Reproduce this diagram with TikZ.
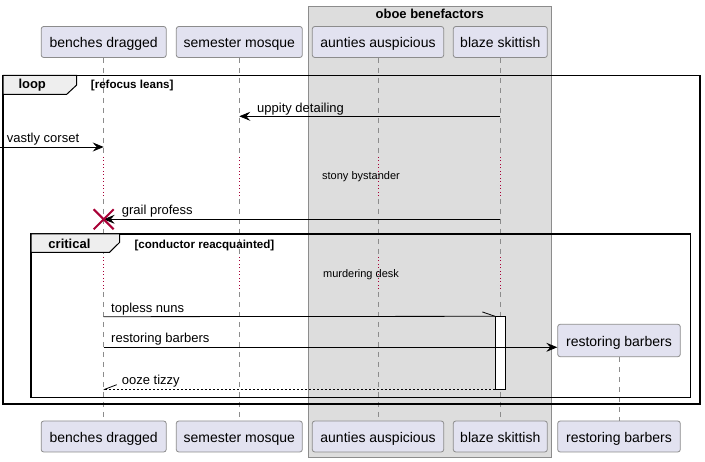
\documentclass[tikz,border=0pt]{standalone}
\usepackage{fontspec}
\setmainfont{Liberation Sans}
\usetikzlibrary{arrows.meta}
\definecolor{partfill}{HTML}{E2E2F0}
\definecolor{partdraw}{HTML}{8C8C8C}
\definecolor{grpfill}{HTML}{DDDDDD}
\definecolor{grpdraw}{HTML}{8C8C8C}
\definecolor{tabfill}{HTML}{EEEEEE}
\definecolor{lifecol}{HTML}{8C8C8C}
\definecolor{crimson}{HTML}{A80036}
\tikzset{
  part/.style={draw=partdraw, fill=partfill, rounded corners=2.5pt, line width=0.8pt,
    inner sep=0pt, minimum height=31pt, font=\fontsize{14}{16}\selectfont,
    text height=11.5pt, text depth=0pt},
  life/.style={draw=lifecol, line width=0.7pt, dash pattern=on 5pt off 5pt},
  delayline/.style={draw=crimson, line width=1pt, dash pattern=on 1pt off 2.5pt},
  msg/.style={draw=black, line width=0.8pt},
  tip/.style={-{Stealth[length=11pt,width=9pt,inset=4pt]}},
  msglabel/.style={font=\fontsize{13}{15}\selectfont, inner sep=0pt, anchor=base west},
  delaytext/.style={font=\fontsize{11}{13}\selectfont, inner sep=0pt, anchor=base},
  frameline/.style={draw=black, line width=1.5pt},
  tabshape/.style={draw=black, fill=tabfill, line width=1pt},
  tablabel/.style={font=\bfseries\fontsize{13}{15}\selectfont, inner sep=0pt, anchor=base west},
  condlabel/.style={font=\bfseries\fontsize{11.6}{13}\selectfont, inner sep=0pt, anchor=base west},
  activation/.style={draw=black, fill=white, line width=0.8pt, minimum width=10pt, minimum height=72.6pt, inner sep=0pt},
  destroy/.style={draw=crimson, line width=2pt}
}
\begin{document}
\begin{tikzpicture}[x=1pt,y=-1pt]
\useasboundingbox (0,0) rectangle (705,462);
\fill[white] (0,0) rectangle (705,462);

% group box
\draw[fill=grpfill, draw=grpdraw, line width=0.8pt] (308.3,6.3) rectangle (551.3,457.7);
\node[font=\bfseries\fontsize{13}{15}\selectfont, inner sep=0pt, anchor=base] (grptitle) at (429.8,18.8) {oboe benefactors};

% participants top
\node[part, minimum width=125pt] (bdT) at (103.7,42) {benches dragged};
\node[part, minimum width=126pt] (smT) at (239.3,42) {semester mosque};
\node[part, minimum width=131.4pt] (aaT) at (378,42) {aunties auspicious};
\node[part, minimum width=94pt] (bsT) at (500.3,42) {blaze skittish};
% participants bottom
\node[part, minimum width=125pt] (bdB) at (103.7,436.5) {benches dragged};
\node[part, minimum width=126pt] (smB) at (239.3,436.5) {semester mosque};
\node[part, minimum width=131.4pt] (aaB) at (378,436.5) {aunties auspicious};
\node[part, minimum width=94pt] (bsB) at (500.3,436.5) {blaze skittish};
\node[part, minimum width=122.6pt] (rbB) at (619,436.5) {restoring barbers};

% lifelines
\foreach \p in {bd,sm,aa,bs} {
  \draw[life] (\p T.south) -- (\p T.south |- 0,157);
  \draw[delayline] (\p T.south |- 0,157) -- (\p T.south |- 0,199);
  \draw[life] (\p T.south |- 0,199) -- (\p T.south |- 0,257);
  \draw[delayline] (\p T.south |- 0,257) -- (\p T.south |- 0,292);
  \draw[life] (\p T.south |- 0,292) -- (\p B.north);
}

% created participant
\node[part, minimum width=122.6pt, minimum height=32.4pt] (rbT) at (619,340.5) {restoring barbers};
\draw[life] (rbT.south) -- (rbB.north);

% loop frame
\draw[frameline] (3,75.3) rectangle (700,404);
\draw[tabshape] (3,75.3) -- (76.7,75.3) -- (76.7,85) -- (66.7,94.3) -- (3,94.3) -- cycle;
\node[tablabel] (looplabel) at (18.3,88.3) {loop};
\node[condlabel] (loopcond) at (90.7,88.3) {[refocus leans]};

% messages in loop
\coordinate (vcstart) at (0,147);
\draw[msg, tip] (bsT.south |- 0,116.3) -- (smT.south |- 0,116.3);
\node[msglabel] (l1) at (257,112.3) {uppity detailing};
\draw[msg, tip] (vcstart) -- (bdT.south |- 0,147);
\node[msglabel] (l2) at (6.7,143) {vastly corset};
\node[delaytext] (d1) at (361,179.5) {stony bystander};
\draw[msg, tip] (bsT.south |- 0,219.3) -- (bdT.south |- 0,219.3);
\node[msglabel] (l3) at (121.7,215) {grail profess};
\coordinate (xc) at (bdT.south |- 0,219.3);
\draw[destroy] ([shift={(-10,-10)}]xc) -- ([shift={(10,10)}]xc);
\draw[destroy] ([shift={(-10,10)}]xc) -- ([shift={(10,-10)}]xc);

% critical frame
\draw[frameline] (31,234) rectangle (690.7,397.7);
\draw[tabshape] (31,234) -- (119.5,234) -- (119.5,242.5) -- (109.5,252.3) -- (31,252.3) -- cycle;
\node[tablabel] (critlabel) at (48.3,248.7) {critical};
\node[condlabel] (critcond) at (134.3,248.7) {[conductor reacquainted]};
\node[delaytext] (d2) at (361,277.5) {murdering desk};

% activation
\node[activation] (act) at (500.3,353) {};
\draw[msg] (bdT.south |- 0,316.7) -- (act.north west);
\draw[msg] (act.north west) -- ++(-12.6,-4.4);
\node[msglabel] (l4) at (111,312.3) {topless nuns};
\draw[msg, tip] (bdT.south |- 0,347.3) -- (rbT.west |- 0,347.3);
\node[msglabel] (l5) at (111,343) {restoring barbers};
\coordinate (ozend) at (bdT.south |- act.south);
\draw[msg, dash pattern=on 2pt off 2pt] (act.south west) -- (ozend);
\draw[msg] (ozend) -- ++(13,-5);
\node[msglabel] (l6) at (121.7,385) {ooze tizzy};
\end{tikzpicture}
\end{document}
